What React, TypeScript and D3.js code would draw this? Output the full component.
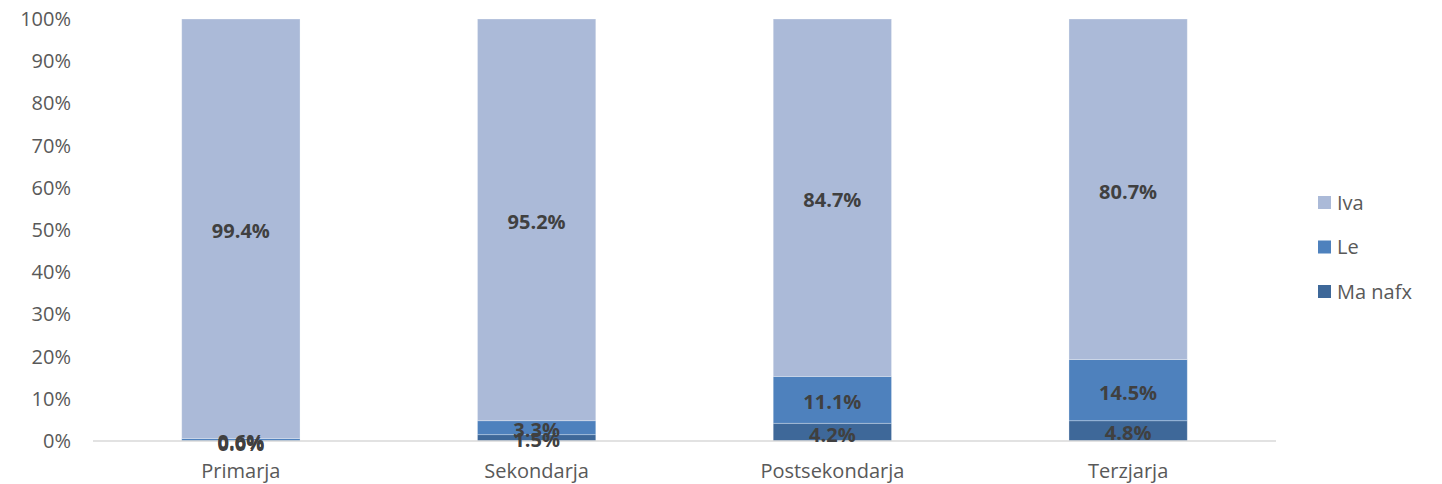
import React from "react";
import * as d3 from "d3";

const categories = ["Primarja", "Sekondarja", "Postsekondarja", "Terzjarja"];
const maNafx = [0.0, 1.5, 4.2, 4.8];
const le = [0.6, 3.3, 11.1, 14.5];
const iva = [99.4, 95.2, 84.7, 80.7];
const yTicks = [0, 10, 20, 30, 40, 50, 60, 70, 80, 90, 100];

const seriesNames = ["Ma nafx", "Le", "Iva"];
const seriesColors = ["#3E6899", "#4E81BD", "#ABBAD8"];
const legendOrder = ["Iva", "Le", "Ma nafx"];

const W = 1442;
const H = 484;
const FONT = "'Open Sans', 'Liberation Sans', sans-serif";

export default function App() {
  const x = d3
    .scaleBand<string>()
    .domain(categories)
    .range([93, 1276])
    .paddingInner(0.6)
    .paddingOuter(0.3);
  const y = d3.scaleLinear().domain([0, 100]).range([441, 19]);

  const rows = categories.map((c, i) => ({
    cat: c,
    "Ma nafx": maNafx[i],
    Le: le[i],
    Iva: iva[i],
  }));
  const stack = d3.stack<any>().keys(seriesNames);
  const layers = stack(rows);

  return (
    <svg
      width={W}
      height={H}
      style={{ position: "absolute", left: 0, top: 0, fontFamily: FONT }}
    >
      <rect x={0} y={0} width={W} height={H} fill="#fff" />
      {yTicks.map((t) => (
        <text
          key={t}
          x={71}
          y={y(t)}
          dy="0.35em"
          textAnchor="end"
          fontSize={20}
          fill="#595959"
        >
          {t}%
        </text>
      ))}
      {layers.map((layer, li) => (
        <g key={layer.key}>
          {layer.map((d, i) => (
            <rect
              key={i}
              x={x(categories[i])}
              y={y(Math.min(d[1], 100))}
              width={x.bandwidth()}
              height={Math.max(0, y(d[0]) - y(Math.min(d[1], 100)))}
              fill={seriesColors[li]}
              stroke="#ffffff"
              strokeOpacity={0.35}
              strokeWidth={0.8}
            />
          ))}
        </g>
      ))}
      <line x1={93} x2={1276} y1={y(0)} y2={y(0)} stroke="#D9D9D9" strokeWidth={1.5} />
      {layers.map((layer) => (
        <g key={"l" + layer.key}>
          {layer.map((d, i) => (
            <text
              key={i}
              x={(x(categories[i]) as number) + x.bandwidth() / 2}
              y={y((d[0] + Math.min(d[1], 100)) / 2) + 2.5}
              dy="0.35em"
              textAnchor="middle"
              fontSize={20}
              fontWeight="bold"
              fill="#404040"
            >
              {(d[1] - d[0]).toFixed(1)}%
            </text>
          ))}
        </g>
      ))}
      {categories.map((c) => (
        <text
          key={c}
          x={(x(c) as number) + x.bandwidth() / 2}
          y={478}
          textAnchor="middle"
          fontSize={20}
          fill="#595959"
        >
          {c}
        </text>
      ))}
      {legendOrder.map((name, i) => {
        const cy = 202.5 + i * 44.5;
        const col = seriesColors[seriesNames.indexOf(name)];
        return (
          <g key={name}>
            <rect x={1318} y={cy - 6.5} width={13} height={13} fill={col} />
            <text x={1337} y={cy} dy="0.35em" fontSize={20} fill="#595959">
              {name}
            </text>
          </g>
        );
      })}
    </svg>
  );
}
